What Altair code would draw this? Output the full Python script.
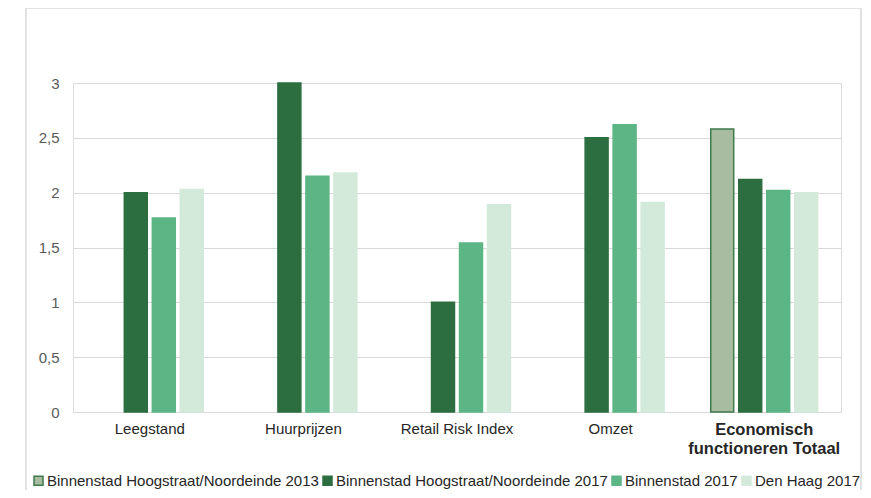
import altair as alt
import pandas as pd

categories = ["Leegstand", "Huurprijzen", "Retail Risk Index", "Omzet", "Economisch functioneren Totaal"]
series = [
    "Binnenstad Hoogstraat/Noordeinde 2013",
    "Binnenstad Hoogstraat/Noordeinde 2017",
    "Binnenstad 2017",
    "Den Haag 2017",
]
v2013 = [None, None, None, None, 2.58]
v2017 = [2.0, 3.0, 1.0, 2.5, 2.12]
vbinnen = [1.77, 2.15, 1.54, 2.62, 2.02]
vdh = [2.03, 2.18, 1.89, 1.91, 2.0]
fills = ["#a7bca1", "#2c6e40", "#5cb585", "#d3e9da"]
strokes = ["#3f7a4c", "#2c6e40", "#5cb585", "#d3e9da"]

rows = []
for s, vals in zip(series, [v2013, v2017, vbinnen, vdh]):
    for c, v in zip(categories, vals):
        if v is not None:
            rows.append({"categorie": c, "reeks": s, "waarde": v})
df = pd.DataFrame(rows)

FONT = "Liberation Sans"
last = categories[-1]


def legend():
    return alt.Legend(
        title=None,
        orient="none",
        direction="horizontal",
        legendX=-42,
        legendY=390,
        symbolType="square",
        symbolSize=81,
        symbolStrokeWidth=1.5,
        labelFont=FONT,
        labelFontSize=15,
        labelColor="#262626",
        labelOffset=1,
        columnPadding=1,
        labelLimit=400,
    )


bars = alt.Chart(df).mark_bar(strokeWidth=1.5).encode(
    x=alt.X(
        "categorie:N",
        sort=categories,
        scale=alt.Scale(paddingInner=0.271, paddingOuter=0.1354),
        axis=alt.Axis(
            title=None,
            labelAngle=0,
            ticks=False,
            domain=True,
            domainColor="#d9d9d9",
            labelPadding=9,
            labelColor="#262626",
            labelFont=FONT,
            labelFontSize={"condition": {"test": f"datum.value == '{last}'", "value": 16.5}, "value": 15},
            labelFontWeight={"condition": {"test": f"datum.value == '{last}'", "value": "bold"}, "value": "normal"},
            labelLineHeight=19,
            labelExpr=f"datum.value == '{last}' ? ['Economisch', 'functioneren Totaal'] : datum.value",
        ),
    ),
    xOffset=alt.XOffset(
        "reeks:N",
        sort=series,
        scale=alt.Scale(domain=series, paddingInner=0.18, paddingOuter=0.09),
    ),
    y=alt.Y(
        "waarde:Q",
        scale=alt.Scale(domain=[0, 3], nice=False),
        axis=alt.Axis(
            title=None,
            values=[0, 0.5, 1, 1.5, 2, 2.5, 3],
            labelExpr="replace(format(datum.value, ''), '.', ',')",
            ticks=False,
            domain=False,
            grid=True,
            gridColor="#d9d9d9",
            labelColor="#595959",
            labelFont=FONT,
            labelFontSize=15,
            labelPadding=14,
        ),
    ),
    color=alt.Color("reeks:N", scale=alt.Scale(domain=series, range=fills), legend=legend()),
    stroke=alt.Stroke("reeks:N", scale=alt.Scale(domain=series, range=strokes), legend=legend()),
)

frame = alt.Chart(pd.DataFrame({"k": [0]})).mark_rect(
    fill="transparent", stroke="#d9d9d9", strokeWidth=1.5
).encode(
    x=alt.value(-47), x2=alt.value(788), y=alt.value(-75), y2=alt.value(500)
)

chart = alt.layer(frame, bars).properties(
    width=768,
    height=329,
    autosize=alt.AutoSizeParams(type="none"),
    padding={"left": 65, "top": 75, "right": 22, "bottom": 78},
).configure_view(stroke=None).configure(background="white")

chart.save("out.html", embed_options={"renderer": "svg", "actions": False})
